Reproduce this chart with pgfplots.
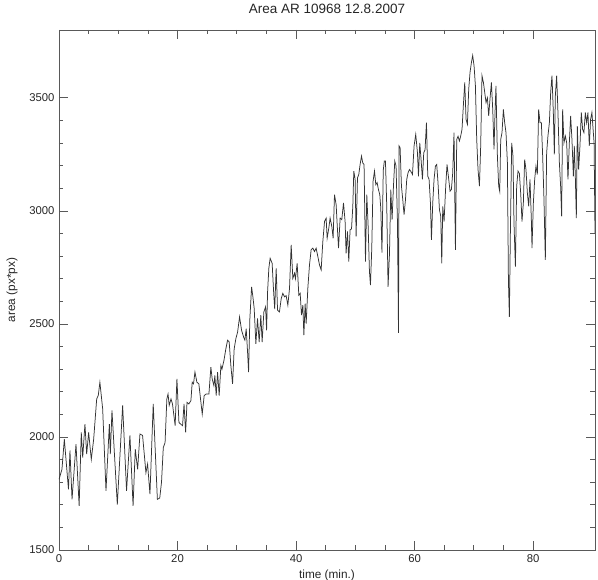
\documentclass[border=0pt]{standalone}
\usepackage{fontspec}
\setmainfont{Liberation Sans}
\usepackage{pgfplots}
\pgfplotsset{compat=1.18}
\usepackage{pgfplotstable}
\pgfplotstableread{
t a
0 1812
0.5 1857
0.9 1990
1.6 1768
1.85 1940
2.2 1724
2.87 1968
3.4 1695
3.76 2020
4.0 1909
4.38 2057
4.67 1924
5.0 2020
5.45 1901
5.85 1990
6.36 2168
6.63 2184
6.9 2242
7.37 2124
7.93 1762
8.5 2057
8.66 1924
8.94 2117
9.84 1701
10.74 2140
11.4 1762
11.97 2007
12.5 1695
12.87 1946
13.27 1857
13.66 2013
14.1 2007
14.67 1842
14.95 1880
15.35 1747
15.9 2146
16.6 1724
17.0 1730
17.3 1800
17.6 1953
17.9 1975
18.2 2168
18.4 2190
18.6 2140
18.9 2168
19.15 2146
19.6 2050
19.9 2257
20.24 2064
20.52 2057
20.85 2050
21.1 2146
21.37 2020
21.6 2153
21.92 2146
22.26 2161
22.48 2242
22.7 2235
22.94 2287
23.27 2242
23.6 2235
24.17 2101
24.5 2183
24.84 2190
25.3 2190
25.63 2309
25.85 2257
26.14 2227
26.3 2272
26.53 2183
26.76 2287
27.03 2183
27.32 2316
27.5 2300
27.83 2338
28.16 2390
28.45 2428
28.72 2420
29.0 2316
29.29 2235
29.56 2390
29.85 2435
30.14 2464
30.47 2531
30.81 2472
31.15 2442
31.37 2428
31.59 2479
31.82 2376
31.99 2287
32.21 2524
32.5 2664
32.72 2620
32.94 2568
33.22 2412
33.5 2524
33.78 2420
34.06 2539
34.28 2420
34.57 2553
34.86 2576
35.03 2472
35.2 2642
35.41 2746
35.63 2790
35.97 2768
36.2 2650
36.4 2565
36.65 2746
36.88 2561
37.2 2553
37.5 2612
37.77 2635
38.06 2620
38.33 2625
38.62 2583
38.9 2657
39.18 2850
39.46 2701
39.75 2724
39.9 2700
40.19 2768
40.47 2627
40.7 2635
40.92 2539
41.15 2583
41.32 2450
41.54 2590
41.71 2501
41.99 2657
42.27 2761
42.55 2828
42.83 2835
43.12 2820
43.39 2835
43.68 2798
43.96 2761
44.24 2739
44.52 2864
44.81 2953
45.08 2968
45.25 2879
45.53 2924
45.75 2968
46.04 2931
46.26 2879
46.49 3072
46.77 3027
46.93 2946
47.17 2835
47.44 2968
47.72 2961
48.01 3035
48.28 2953
48.45 2812
48.68 2909
48.9 2776
49.12 2916
49.36 2920
49.58 3020
49.75 3176
49.97 3139
50.14 2887
50.37 3146
50.59 3161
50.81 3205
51.05 3242
51.26 3212
51.48 3205
51.72 2776
51.94 3072
52.16 2939
52.39 2731
52.56 2672
52.78 2835
53.0 3131
53.24 3176
53.46 3116
53.68 3125
53.91 3094
54.13 3072
54.3 3013
54.5 2815
54.72 3180
54.9 3220
55.09 3220
55.31 3020
55.53 2664
55.77 2812
55.99 3094
56.21 2961
56.44 3109
56.66 3220
56.88 3198
57.12 2946
57.29 2460
57.39 3287
57.56 3280
57.79 3109
58.01 3050
58.23 2983
58.47 3050
58.68 3139
58.9 3168
59.14 3183
59.36 3175
59.65 3161
59.92 3287
60.2 3338
60.49 3257
60.66 3153
60.88 3301
61.1 3227
61.33 3139
61.55 3257
61.77 3270
62.01 3390
62.23 3153
62.45 3140
62.68 3035
62.85 2872
63.07 3035
63.29 3139
63.52 3198
63.74 3205
63.96 3124
64.2 3005
64.42 2976
64.59 2768
64.76 3020
64.98 2953
65.26 3109
65.48 3205
65.77 3139
65.99 3087
66.22 3095
66.44 3168
66.66 3346
66.9 2828
67.12 3316
67.34 3330
67.57 3309
67.79 3331
68.01 3361
68.25 3472
68.47 3568
68.69 3405
68.92 3383
69.14 3538
69.36 3612
69.6 3657
69.81 3687
70.04 3642
70.27 3553
70.49 3316
70.71 3183
70.95 3109
71.16 3287
71.38 3598
71.62 3568
71.84 3524
72.06 3479
72.29 3500
72.51 3420
72.73 3494
72.97 3568
73.19 3449
73.41 3272
73.58 3435
73.74 3553
73.98 3242
74.2 3109
74.37 3087
74.54 3316
74.76 3346
74.99 3449
75.21 3390
75.43 3346
75.67 3212
75.84 2694
76.0 2531
76.17 2901
76.39 3301
76.61 3242
76.78 2946
77.02 2753
77.23 3109
77.46 3176
77.69 3165
77.91 3079
78.13 2953
78.36 3035
78.58 3227
78.8 3183
79.04 3079
79.26 3020
79.48 3139
79.71 2961
79.82 2835
80.05 3035
80.27 3139
80.49 3198
80.72 3161
80.94 3449
81.17 3390
81.4 3390
81.62 3242
81.84 3050
82.07 2783
82.29 3257
82.51 3331
82.75 3390
82.97 3524
83.19 3598
83.42 3435
83.59 3250
83.76 3509
83.98 3598
84.2 3435
84.44 3212
84.65 3109
84.82 2976
84.99 3449
85.21 3301
85.45 3331
85.67 3301
85.89 3139
86.12 3301
86.34 3420
86.56 3316
86.8 3153
86.96 3287
87.13 3153
87.3 2968
87.47 3375
87.69 3183
87.91 3287
88.14 3435
88.36 3361
88.58 3346
88.82 3435
89.04 3390
89.26 3435
89.49 3287
89.71 3405
89.93 3435
90.17 3346
90.3 3300
90.45 2900
}\areadata
\begin{document}
\begin{tikzpicture}
\path[use as bounding box] (-59pt,-30pt) rectangle (539pt,550pt);
\begin{axis}[
  at={(0,0)}, anchor=south west,
  scale only axis,
  width=536pt, height=520pt,
  xmin=0, xmax=90.45,
  ymin=1500, ymax=3800,
  xtick={0,20,40,60,80},
  minor x tick num=3,
  ytick={1500,2000,2500,3000,3500},
  minor y tick num=4,
  tick align=inside,
  major tick length=9pt,
  minor tick length=4.5pt,
  axis line style={black!65, line width=0.8pt},
  every tick/.style={black!65, line width=0.7pt},
  /pgf/number format/assume math mode=true,
  /pgf/number format/1000 sep={},
  tick label style={font=\fontsize{11.3}{13}\selectfont, text=black!85},
  xticklabel style={yshift=-1pt},
  yticklabel style={xshift=-1pt},
  title={Area AR 10968 12.8.2007},
  title style={at={(axis description cs:0.5,1)}, anchor=center, yshift=15pt, font=\fontsize{13.5}{15}\selectfont, text=black!85},
  xlabel={time (min.)},
  xlabel style={at={(axis description cs:0.5,0)}, anchor=center, yshift=-25pt, font=\fontsize{11.8}{13}\selectfont, text=black!85},
  ylabel={area (px*px)},
  ylabel style={at={(axis description cs:-0.0877,0.5)}, anchor=center, font=\fontsize{11.8}{13}\selectfont, text=black!85},
]
\addplot[black!80, line width=0.75pt, mark=none] table[x=t, y=a] {\areadata};
\end{axis}
\end{tikzpicture}
\end{document}
